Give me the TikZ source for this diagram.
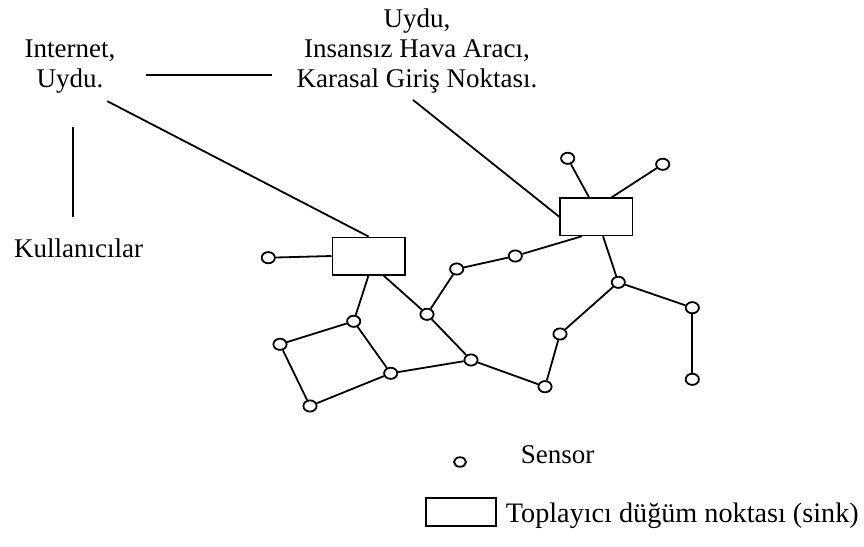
\documentclass[tikz,border=0pt]{standalone}
\usepackage{fontspec}
\setmainfont{Liberation Serif}
\usetikzlibrary{shapes.geometric}
\begin{document}
\begin{tikzpicture}[x=1pt,y=-1pt,
  line width=1.8pt,
  label/.style={font=\fontsize{27}{30}\selectfont, inner sep=0pt, align=center},
  sensor/.style={draw, ellipse, inner sep=0pt, minimum width=13.2pt, minimum height=11.2pt},
  sink/.style={draw, rectangle, inner sep=0pt, minimum width=72.2pt, minimum height=37.2pt}]
\useasboundingbox (0,0) rectangle (864,546);

% upper level: gateways and users
\node[label] (inet) at (70,66.5) {Internet,\\Uydu.};
\node[label] (sat) at (417,50.8) {Uydu,\\Insansız Hava Aracı,\\Karasal Giriş Noktası.};
\node[label, anchor=base] (users) at (78.5,257) {Kullanıcılar};

% sinks
\node[sink] (sink1) at (368.5,256) {};
\node[sink] (sink2) at (596.3,216.8) {};

% sensors
\node[sensor] (sl) at (268.3,257.7) {};
\node[sensor] (t1) at (567.7,158.3) {};
\node[sensor] (t2) at (662.7,164.3) {};
\node[sensor] (a) at (456.7,269) {};
\node[sensor] (b) at (515.3,256) {};
\node[sensor] (c) at (427,314.3) {};
\node[sensor] (d) at (353.7,321.3) {};
\node[sensor] (e) at (280,344.3) {};
\node[sensor] (f) at (390.7,373.3) {};
\node[sensor] (g) at (310,406) {};
\node[sensor] (h) at (471,360) {};
\node[sensor] (i) at (545,386.7) {};
\node[sensor] (j) at (560,334) {};
\node[sensor] (k) at (618.3,282.3) {};
\node[sensor] (l) at (692.3,307.7) {};
\node[sensor] (m) at (692.3,379.3) {};

% links between the upper level nodes
\draw[shorten <=33pt, shorten >=20pt] ([xshift=2.7pt]inet.south) -- ([xshift=2.7pt]inet.south |- users.north);
\draw[shorten <=30pt, shorten >=23.5pt] ([yshift=-8.5pt]inet.east) -- ([yshift=-8.5pt]inet.east -| sat.west);
\draw ([xshift=-9pt,yshift=-7pt]inet.south east) -- (sink1.north);
\draw ([xshift=-4pt,yshift=-6pt]sat.south) -- (sink2.west);

% sink links
\draw (sl) -- (sink1.west);
\draw (sink1.south) -- (d);
\draw ([xshift=15pt]sink1.south) -- (c);
\draw (b) -- ([xshift=-14.6pt]sink2.south);
\draw (k) -- ([xshift=6.7pt]sink2.south);
\draw (t1) -- ([xshift=-7.3pt]sink2.north);
\draw (t2) -- ([xshift=15.4pt]sink2.north);

% sensor links
\draw (d) -- (e);
\draw (d) -- (f);
\draw (e) -- (g);
\draw (g) -- (f);
\draw (f) -- (h);
\draw (c) -- (h);
\draw (c) -- (a);
\draw (a) -- (b);
\draw (h) -- (i);
\draw (i) -- (j);
\draw (j) -- (k);
\draw (k) -- (l);
\draw (l) -- (m);

% legend
\node[sensor, minimum width=12pt, minimum height=9.5pt] (keysensor) at (460,462) {};
\node[label, anchor=base west] (keysensortext) at (520,463) {Sensor};
\node[sink, minimum width=70.2pt, minimum height=28.2pt] (keysink) at (461,511.7) {};
\node[label, anchor=base west, font=\fontsize{28.2}{30}\selectfont] (keysinktext) at (505,522)
  {Toplayıcı düğüm noktası (sink)};
\end{tikzpicture}
\end{document}
